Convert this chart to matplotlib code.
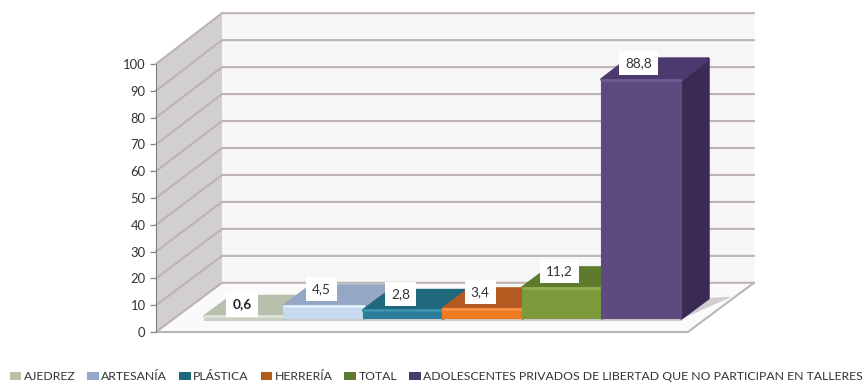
import matplotlib
matplotlib.use("Agg")
import matplotlib.pyplot as plt
from matplotlib.patches import Polygon, Patch

plt.rcParams['font.family'] = ['Lato', 'DejaVu Sans']

categories = ['AJEDREZ', 'ARTESANÍA', 'PLÁSTICA', 'HERRERÍA', 'TOTAL',
              'ADOLESCENTES PRIVADOS DE LIBERTAD QUE NO PARTICIPAN EN TALLERES']
values = [0.6, 4.5, 2.8, 3.4, 11.2, 88.8]
value_labels = ['0,6', '4,5', '2,8', '3,4', '11,2', '88,8']
yticks = list(range(0, 101, 10))

front_colors = ['#CBD3C2', '#C6DBF1', '#2A7D96', '#EE7A22', '#7C9A3A', '#5F4A80']
top_colors = ['#B7C1AD', '#94A8C6', '#1F687E', '#B55A20', '#5E7B2D', '#4C396D']
side_colors = ['#A2AC98', '#7F92AE', '#174F60', '#8C4518', '#465E20', '#3A2B54']
edge_colors = ['#DDE3D6', '#E4F0FB', '#3F94AD', '#F9954A', '#93B04F', '#715C93']

W, H = 866, 387
fig = plt.figure(figsize=(W / 100, H / 100), dpi=100)
ax = fig.add_axes([156 / W, (H - 332) / H, (760 - 156) / W, 327 / H])
ax.set_xlim(-0.879, 6.728)
ax.set_ylim(0, 122)
ax.patch.set_visible(False)

DX, DY, GROW = 0.831, 18.35, 0.006
X0, X1 = -0.879, 5.82
T0, T1 = 0.286, 0.69


def pt(x, y, t=0.0):
    return (x + DX * t, y * (1 + GROW * t) + DY * t)


def poly(points, color, z=1, **kw):
    ax.add_patch(Polygon(points, closed=True, facecolor=color, edgecolor=kw.pop('ec', 'none'),
                         zorder=z, clip_on=False, **kw))


# walls and floor
poly([pt(X0, 0), pt(X0, 100), pt(X0, 100, 1), pt(X0, 0, 1)], '#D2CFD3', 1)
poly([pt(X0, 0, 1), pt(X0, 100, 1), pt(X1, 100, 1), pt(X1, 0, 1)], '#F6F5F8', 1)
poly([pt(X0, 0), pt(X1, 0), pt(X1, 0, 1), pt(X0, 0, 1)], '#FAFAFB', 1)

grid_c = '#BDB3B3'
for v in yticks:
    p = [pt(X0, v), pt(X0, v, 1), pt(X1, v, 1)]
    ax.plot(*zip(*p), color=grid_c, lw=1.5, zorder=2, clip_on=False, solid_joinstyle='miter')
ax.plot(*zip(pt(X0, 0), pt(X1, 0), pt(X1, 0, 1)), color='#BDB5B5', lw=1.5, zorder=2, clip_on=False)

# contact shadow
right = 5.5
poly([pt(right, 0, T0), pt(right, 0, T1), pt(right + 0.28, 0, T1 + 0.03), pt(right + 0.02, 0, T0 - 0.02)],
     '#CFCDD1', 3)
ax.plot(*zip(pt(-0.5, -0.6, T0), pt(right, -0.6, T0)), color='#CFCCCC', lw=1.5, zorder=3, clip_on=False)

# bars
for i, v in enumerate(values):
    z = 4 + i
    l, r = i - 0.5, i + 0.5
    poly([pt(r, 0, T0), pt(r, v, T0), pt(r, v, T1), pt(r, 0, T1)], side_colors[i], z,
         lw=2.5, ec=side_colors[i], joinstyle='round')
    poly([pt(l, v, T0), pt(r, v, T0), pt(r, v, T1), pt(l, v, T1)], top_colors[i], z,
         lw=2.5, ec=top_colors[i], joinstyle='round')
    poly([pt(l, 0, T0), pt(r, 0, T0), pt(r, v, T0), pt(l, v, T0)], front_colors[i], z,
         lw=1.5, ec=front_colors[i], joinstyle='round')
    ax.plot(*zip(pt(l, v, T0), pt(r, v, T0)), color=edge_colors[i], lw=1.8, zorder=z,
            clip_on=False, solid_capstyle='round')

# value labels
for i, (v, s) in enumerate(zip(values, value_labels)):
    px, py = pt(i, v, T0)
    ax.annotate(s, (px, py), xytext=(-2, 12 if i else 8.6), textcoords='offset points',
                ha='center', va='center', fontsize=9.8, color='#222222' if i == 0 else '#333333',
                fontweight='bold' if i == 0 else 'normal', zorder=20, annotation_clip=False,
                bbox=dict(boxstyle='square,pad=0.45', fc='white', ec='none'))

# axis
for s in ('top', 'right', 'bottom'):
    ax.spines[s].set_visible(False)
ax.spines['left'].set_bounds(0, 100)
ax.spines['left'].set_color('#808080')
ax.spines['left'].set_zorder(3)
ax.set_xticks([])
ax.set_yticks(yticks)
ax.tick_params(axis='y', length=4.5, width=0.9, color='#808080', labelsize=9.4,
               labelcolor='#333333', pad=3)

handles = [Patch(facecolor=c, edgecolor='none') for c in top_colors]
fig.legend(handles, categories, loc='lower left', bbox_to_anchor=(0.004, -0.004), ncol=6, frameon=False,
           fontsize=8.85, labelcolor='#333333', handlelength=0.95, handleheight=0.6, handletextpad=0.2,
           columnspacing=0.96, borderpad=0.5, borderaxespad=0.0)

fig.savefig('out.png', dpi=100)
